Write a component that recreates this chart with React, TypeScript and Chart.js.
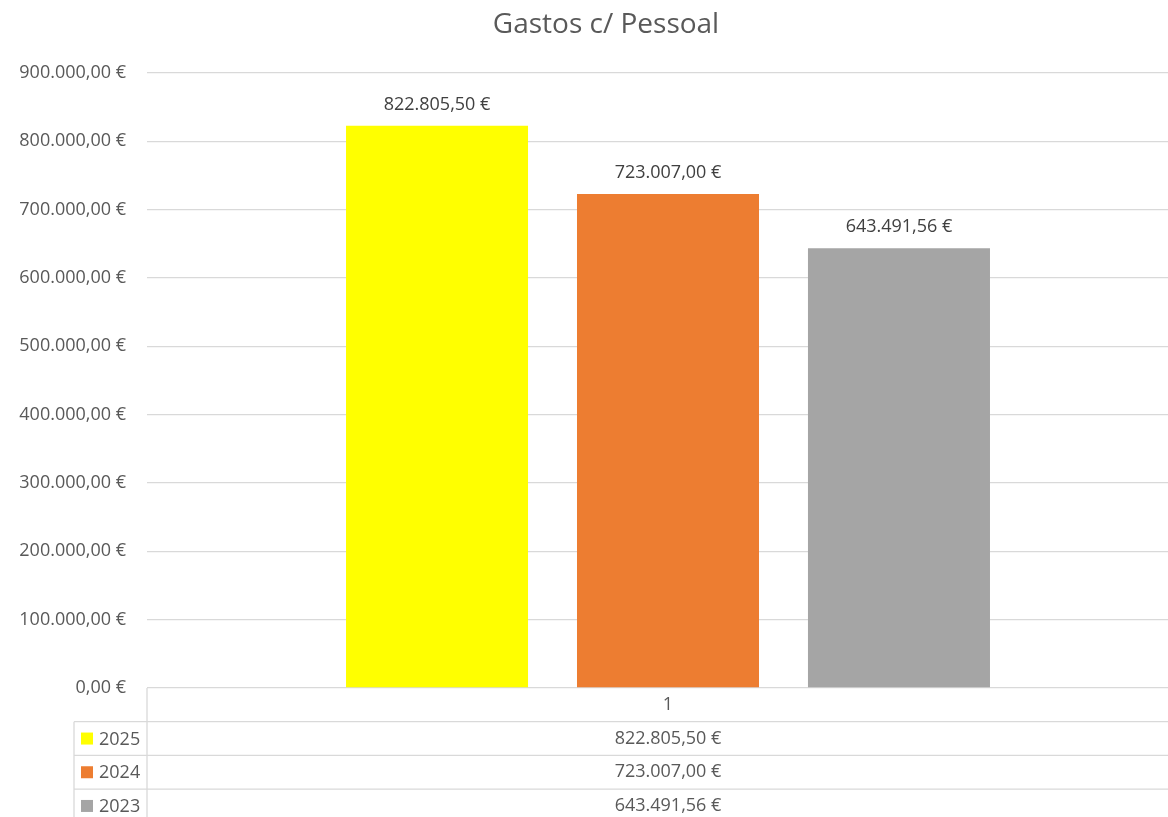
import React, { useEffect, useRef } from "react";
import { Chart, registerables } from "chart.js";

Chart.register(...registerables);

const title = "Gastos c/ Pessoal";
const categories = ["1"];
const seriesNames = ["2025", "2024", "2023"];
const values2025 = [822805.5];
const values2024 = [723007.0];
const values2023 = [643491.56];
const seriesColors = ["#FFFF00", "#ED7D31", "#A5A5A5"];
const yMin = 0;
const yMax = 900000;
const yStep = 100000;

const FONT = "'Open Sans', sans-serif";
const TEXT = "#595959";
const LINE = "#d9d9d9";

function fmt(v: number): string {
  const neg = v < 0;
  const abs = Math.abs(v);
  const fixed = abs.toFixed(2);
  const [intPart, dec] = fixed.split(".");
  const withDots = intPart.replace(/\B(?=(\d{3})+(?!\d))/g, ".");
  return (neg ? "-" : "") + withDots + "," + dec + " €";
}

const seriesValues = [values2025, values2024, values2023];

const tablePlugin = {
  id: "tablePlugin",
  afterDraw(chart: any) {
    const ctx = chart.ctx as CanvasRenderingContext2D;
    const area = chart.chartArea;
    const xScale = chart.scales.x;
    const W = chart.width;
    const H = chart.height;
    ctx.save();
    // title
    ctx.fillStyle = TEXT;
    ctx.font = `28px ${FONT}`;
    ctx.textAlign = "center";
    ctx.textBaseline = "middle";
    ctx.fillText(title, W / 2, 25);

    // data labels
    ctx.font = `18px ${FONT}`;
    ctx.fillStyle = "#404040";
    seriesValues.forEach((vals, i) => {
      const meta = chart.getDatasetMeta(i);
      meta.data.forEach((bar: any, j: number) => {
        ctx.fillText(fmt(vals[j]), bar.x, bar.y - 21);
      });
    });

    // table
    const rowH = 33.7;
    const top = area.bottom;
    const keyLeft = 74;
    ctx.strokeStyle = LINE;
    ctx.lineWidth = 1.3;
    ctx.beginPath();
    ctx.moveTo(area.left, top);
    ctx.lineTo(area.left, H);
    ctx.moveTo(area.right, top);
    ctx.lineTo(area.right, H);
    ctx.moveTo(keyLeft, top + rowH);
    ctx.lineTo(keyLeft, H);
    for (let r = 1; r <= seriesNames.length; r++) {
      const y = top + rowH * r;
      ctx.moveTo(keyLeft, y);
      ctx.lineTo(area.right, y);
    }
    ctx.stroke();

    ctx.font = `18px ${FONT}`;
    ctx.fillStyle = TEXT;
    ctx.textBaseline = "middle";
    categories.forEach((c, j) => {
      const cx = xScale.getPixelForValue(j);
      ctx.textAlign = "center";
      ctx.fillText(c, cx, top + rowH / 2);
      seriesValues.forEach((vals, i) => {
        ctx.fillText(fmt(vals[j]), cx, top + rowH * (i + 1) + rowH / 2);
      });
    });
    seriesNames.forEach((n, i) => {
      const cy = top + rowH * (i + 1) + rowH / 2;
      ctx.fillStyle = seriesColors[i];
      ctx.fillRect(81, cy - 6, 12, 12);
      ctx.fillStyle = TEXT;
      ctx.textAlign = "left";
      ctx.fillText(n, 99, cy + 1);
    });
    ctx.restore();
  },
};

export default function App() {
  const ref = useRef<HTMLCanvasElement>(null);
  useEffect(() => {
    if (!ref.current) return;
    const chart = new Chart(ref.current, {
      type: "bar",
      data: {
        labels: categories,
        datasets: seriesNames.map((n, i) => ({
          label: n,
          data: seriesValues[i],
          backgroundColor: seriesColors[i],
          borderWidth: 0,
          categoryPercentage: 0.665,
          barPercentage: 0.788,
        })),
      },
      options: {
        responsive: false,
        animation: false,
        devicePixelRatio: 1,
        layout: { padding: { top: 73, bottom: 142, left: 0, right: 23 } },
        plugins: {
          legend: { display: false },
          title: { display: false },
          tooltip: { enabled: false },
        },
        scales: {
          x: { display: false },
          y: {
            min: yMin,
            max: yMax,
            border: { display: false },
            grid: { color: LINE, lineWidth: 1.3, drawTicks: false },
            ticks: {
              stepSize: yStep,
              padding: 21,
              color: TEXT,
              font: { family: FONT, size: 18 },
              callback: (v: any) => fmt(Number(v)),
            },
            afterFit: (s: any) => {
              s.width = 147;
            },
          },
        },
      },
      plugins: [tablePlugin],
    });
    return () => chart.destroy();
  }, []);
  return (
    <div
      style={{
        position: "fixed",
        left: 0,
        top: 0,
        width: 1168,
        height: 817,
        overflow: "hidden",
        background: "#fff",
      }}
    >
      <canvas ref={ref} width={1212} height={830} style={{ display: "block" }} />
    </div>
  );
}
